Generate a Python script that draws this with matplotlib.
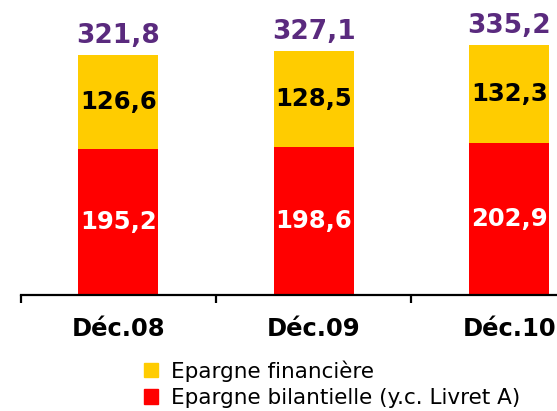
import numpy as np
import matplotlib.pyplot as plt
from matplotlib.patches import Patch

# Données
categories = ['Déc.08', 'Déc.09', 'Déc.10']
bilan = [195.2, 198.6, 202.9]
financiere = [126.6, 128.5, 132.3]
totaux = [321.8, 327.1, 335.2]

fmt = lambda v: f"{v:.1f}".replace('.', ',')

fig = plt.figure(figsize=(5.57, 4.11), dpi=100)
ax = fig.add_axes([0.037, 0.283, 0.963, 0.717])

x = np.arange(len(categories))
w = 0.41
ax.bar(x, bilan, w, color='#ff0000')
ax.bar(x, financiere, w, bottom=bilan, color='#ffcc00')

# Étiquettes des valeurs
for i in range(len(categories)):
    ax.text(x[i], bilan[i] / 2, fmt(bilan[i]), ha='center', va='center',
            color='white', fontsize=17.5, fontweight='bold')
    ax.text(x[i], bilan[i] + financiere[i] / 2, fmt(financiere[i]), ha='center',
            va='center', color='black', fontsize=17.5, fontweight='bold')
    ax.text(x[i], totaux[i] + 7, fmt(totaux[i]), ha='center', va='bottom',
            color='#5a2a7e', fontsize=19, fontweight='bold')

for s in ['top', 'right', 'left']:
    ax.spines[s].set_visible(False)
ax.spines['bottom'].set_linewidth(1.6)
ax.set_yticks([])

ax.set_xticks(x)
ax.set_xticklabels(categories, fontsize=17.5, fontweight='bold')
ax.tick_params(axis='x', which='major', length=0, pad=16)
ax.set_xticks([-0.5, 0.5, 1.5, 2.5], minor=True)
ax.tick_params(axis='x', which='minor', length=6, width=1.6, direction='out')

ax.set_xlim(-0.5, 2.245)
ax.set_ylim(0, 395)

# Légende
handles = [Patch(color='#ffcc00', label='Epargne financière'),
           Patch(color='#ff0000', label='Epargne bilantielle (y.c. Livret A)')]
fig.legend(handles=handles, loc='upper left', bbox_to_anchor=(0.258, 0.124),
           frameon=False, fontsize=15.5, handlelength=0.68, handleheight=0.68,
           handletextpad=0.6, labelspacing=0.3, borderaxespad=0, borderpad=0)

fig.savefig('out.png', dpi=100)
